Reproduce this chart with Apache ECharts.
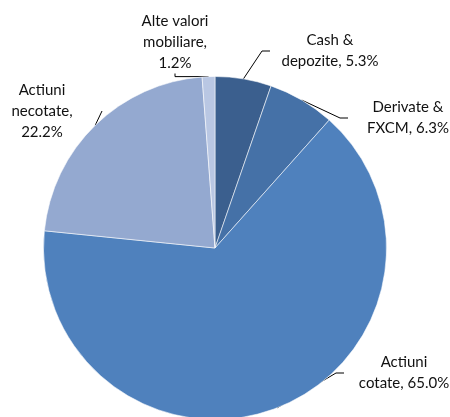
<!DOCTYPE html>
<html>
<head>
<meta charset="utf-8">
<script src="https://cdn.jsdelivr.net/npm/echarts@6/dist/echarts.min.js"></script>
<style>
html,body{margin:0;padding:0;background:#fff;}
#chart{width:450px;height:417px;}
</style>
</head>
<body>
<div id="chart"></div>
<script>
const categories = ['Cash & depozite', 'Derivate & FXCM', 'Actiuni cotate', 'Actiuni necotate', 'Alte valori mobiliare'];
const values = [5.3, 6.3, 65.0, 22.2, 1.2];
const labelTexts = ['Cash &\ndepozite, ', 'Derivate &\nFXCM, ', 'Actiuni\ncotate, ', 'Actiuni\nnecotate,\n', 'Alte valori\nmobiliare,\n'];
const colors = ['#3b5f8e', '#4571a7', '#4f81bd', '#94a9d0', '#b9c7e3'];

// label anchor positions (label centers), in px
const labelPos = [[330, 51], [408, 118], [404, 373], [42, 111], [175, 42]];

const chart = echarts.init(document.getElementById('chart'), null, {renderer: 'canvas'});
chart.setOption({
  animation: false,
  backgroundColor: '#ffffff',
  series: [{
    type: 'pie',
    center: [215, 248],
    radius: 171.5,
    startAngle: 90,
    clockwise: true,
    data: categories.map((c, i) => ({
      name: c,
      value: values[i],
      itemStyle: {color: colors[i]}
    })),
    itemStyle: {borderColor: 'rgba(255,255,255,0.7)', borderWidth: 0.8},
    label: {
      show: true,
      position: 'outside',
      overflow: 'none',
      edgeDistance: 0,
      formatter: p => labelTexts[p.dataIndex] + values[p.dataIndex].toFixed(1) + '%',
      fontFamily: 'Lato, "Liberation Sans", sans-serif',
      fontSize: 15,
      lineHeight: 21,
      color: '#111',
      align: 'center'
    },
    labelLine: {
      show: true,
      length: 8,
      length2: 8,
      lineStyle: {color: '#000', width: 1}
    },
    labelLayout: p => ({
      x: labelPos[p.dataIndex][0],
      y: labelPos[p.dataIndex][1],
      align: 'center',
      verticalAlign: 'middle',
      width: 120
    }),
    emphasis: {disabled: true}
  }]
});
</script>
</body>
</html>
